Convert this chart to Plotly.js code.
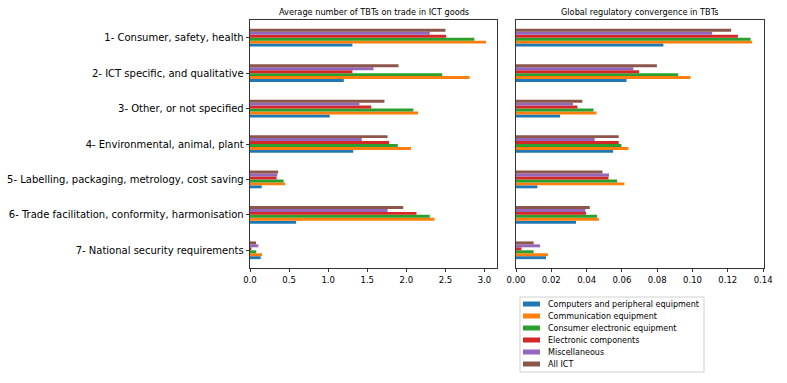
<!DOCTYPE html>
<html>
<head>
<meta charset="utf-8">
<script src="https://cdn.plot.ly/plotly-3.0.1.min.js"></script>
<style>html,body{margin:0;padding:0;background:#fff;}#chart{width:787px;height:383px;}</style>
</head>
<body>
<div id="chart"></div>
<script>
const categories = [
  "1- Consumer, safety, health",
  "2- ICT specific, and qualitative",
  "3- Other, or not specified",
  "4- Environmental, animal, plant",
  "5- Labelling, packaging, metrology, cost saving",
  "6- Trade facilitation, conformity, harmonisation",
  "7- National security requirements"
];
const seriesNames = [
  "Computers and peripheral equipment",
  "Communication equipment",
  "Consumer electronic equipment",
  "Electronic components",
  "Miscellaneous",
  "All ICT"
];
const colors = ["#1f77b4", "#ff7f0e", "#2ca02c", "#d62728", "#9467bd", "#8c564b"];

// Average number of TBTs on trade in ICT goods
const avgComputers     = [1.31, 1.20, 1.02, 1.32, 0.15, 0.59, 0.137];
const avgCommunication = [3.02, 2.81, 2.15, 2.06, 0.45, 2.36, 0.154];
const avgConsumer      = [2.87, 2.46, 2.09, 1.89, 0.43, 2.30, 0.080];
const avgComponents    = [2.51, 1.31, 1.55, 1.78, 0.34, 2.13, 0.017];
const avgMisc          = [2.30, 1.58, 1.40, 1.43, 0.35, 1.76, 0.107];
const avgAllICT        = [2.50, 1.90, 1.72, 1.76, 0.36, 1.96, 0.077];

// Global regulatory convergence in TBTs
const convComputers     = [0.0835, 0.0626, 0.0250, 0.0550, 0.0121, 0.0340, 0.0170];
const convCommunication = [0.1338, 0.0989, 0.0456, 0.0637, 0.0614, 0.0469, 0.0181];
const convConsumer      = [0.1329, 0.0919, 0.0439, 0.0597, 0.0573, 0.0459, 0.0100];
const convComponents    = [0.1257, 0.0697, 0.0348, 0.0582, 0.0524, 0.0397, 0.0031];
const convMisc          = [0.1111, 0.0665, 0.0323, 0.0446, 0.0527, 0.0393, 0.0136];
const convAllICT        = [0.1219, 0.0798, 0.0376, 0.0582, 0.0490, 0.0418, 0.0100];

const avgSeries = [avgComputers, avgCommunication, avgConsumer, avgComponents, avgMisc, avgAllICT];
const convSeries = [convComputers, convCommunication, convConsumer, convComponents, convMisc, convAllICT];

const traces = [];
avgSeries.forEach((vals, i) => {
  traces.push({
    type: "bar", orientation: "h", x: vals, y: categories,
    name: seriesNames[i], marker: {color: colors[i], line: {width: 0}},
    xaxis: "x", yaxis: "y", showlegend: false
  });
});
convSeries.forEach((vals, i) => {
  traces.push({
    type: "bar", orientation: "h", x: vals, y: categories,
    name: seriesNames[i], marker: {color: colors[i], line: {width: 0}},
    xaxis: "x2", yaxis: "y2", showlegend: false
  });
});

const W = 787, H = 383;
const px = v => v / W;          // horizontal pixel -> paper
const py = v => 1 - v / H;      // vertical pixel -> paper
const font = {family: "DejaVu Sans, sans-serif", color: "#000"};
const axisCommon = {
  showline: true, mirror: true, linecolor: "#000", linewidth: 0.8,
  ticks: "outside", ticklen: 3.5, tickwidth: 0.8, tickcolor: "#000",
  showgrid: false, zeroline: false, fixedrange: true, automargin: false
};
const catOrder = categories.slice().reverse();

// hand-built legend (matplotlib style)
const legendBox = {x0: 520, x1: 704, y0: 297, y1: 372, rowTop: 304, rowStep: 12};
const shapes = [{
  type: "rect", xref: "paper", yref: "paper",
  x0: px(legendBox.x0), x1: px(legendBox.x1), y0: py(legendBox.y1), y1: py(legendBox.y0),
  line: {color: "#d0d0d0", width: 1}, fillcolor: "rgba(255,255,255,0.8)", layer: "above"
}];
const annotations = [
  {text: "Average number of TBTs on trade in ICT goods", xref: "paper", yref: "paper",
   x: px((250 + 497) / 2), y: py(12), xanchor: "center", yanchor: "middle",
   showarrow: false, font: {size: 8.2, color: "#000"}},
  {text: "Global regulatory convergence in TBTs", xref: "paper", yref: "paper",
   x: px((516 + 764) / 2), y: py(12), xanchor: "center", yanchor: "middle",
   showarrow: false, font: {size: 8.2, color: "#000"}}
];
seriesNames.forEach((name, i) => {
  const cy = legendBox.rowTop + i * legendBox.rowStep;
  shapes.push({
    type: "rect", xref: "paper", yref: "paper",
    x0: px(523), x1: px(540), y0: py(cy + 2.5), y1: py(cy - 2.5),
    line: {width: 0}, fillcolor: colors[i], layer: "above"
  });
  annotations.push({
    text: name, xref: "paper", yref: "paper", x: px(546), y: py(cy),
    xanchor: "left", yanchor: "middle", showarrow: false,
    font: {size: 8, color: "#000"}
  });
});

const layout = {
  width: W, height: H,
  margin: {l: 0, r: 0, t: 0, b: 0},
  paper_bgcolor: "#fff", plot_bgcolor: "#fff",
  font: font,
  barmode: "group", bargap: 0.5, bargroupgap: 0,
  showlegend: false,
  xaxis: Object.assign({}, axisCommon, {
    domain: [px(250), px(497)], range: [0, 3.16], anchor: "y",
    tickvals: [0, 0.5, 1, 1.5, 2, 2.5, 3], tickformat: ".1f",
    tickfont: {size: 8.5}
  }),
  yaxis: Object.assign({}, axisCommon, {
    domain: [py(268), py(20)], anchor: "x", type: "category",
    categoryorder: "array", categoryarray: catOrder,
    range: [-0.5, 6.5], tickfont: {size: 10}
  }),
  xaxis2: Object.assign({}, axisCommon, {
    domain: [px(516), px(764)], range: [0, 0.1405], anchor: "y2",
    tickvals: [0, 0.02, 0.04, 0.06, 0.08, 0.10, 0.12, 0.14], tickformat: ".2f",
    tickfont: {size: 8.5}
  }),
  yaxis2: Object.assign({}, axisCommon, {
    domain: [py(268), py(20)], anchor: "x2", type: "category",
    categoryorder: "array", categoryarray: catOrder,
    range: [-0.5, 6.5], showticklabels: false, ticks: ""
  }),
  shapes: shapes,
  annotations: annotations
};

Plotly.newPlot("chart", traces, layout, {displayModeBar: false, staticPlot: true});
</script>
</body>
</html>
